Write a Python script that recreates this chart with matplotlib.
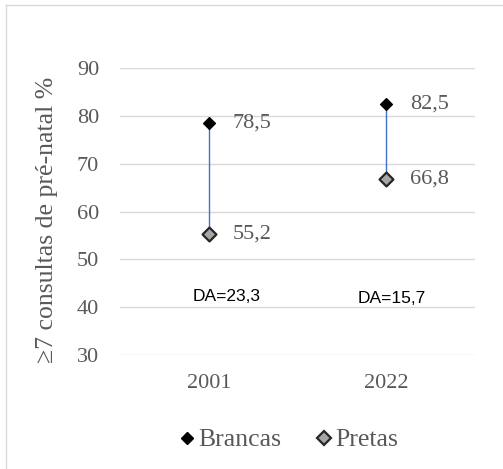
import matplotlib
matplotlib.use("Agg")
import matplotlib.pyplot as plt
from matplotlib.lines import Line2D

# dados
anos = ["2001", "2022"]
brancas = [78.5, 82.5]
pretas = [55.2, 66.8]
rotulos_brancas = ["78,5", "82,5"]
rotulos_pretas = ["55,2", "66,8"]
rotulos_da = ["DA=23,3", "DA=15,7"]
da_y = [42.2, 41.9]
da_dx = [0.1, 0.03]
yticks = [30, 40, 50, 60, 70, 80, 90]

plt.rcParams['font.family'] = ['Liberation Serif', 'DejaVu Serif']

fig = plt.figure(figsize=(5.03, 4.69), dpi=100)
ax = fig.add_axes([120 / 503, 1 - 355 / 469, 355 / 503, (355 - 68) / 469])

x = list(range(len(anos)))

# linhas entre os pontos
for xi, b, p in zip(x, brancas, pretas):
    ax.plot([xi, xi], [p, b], color="#4472C4", lw=1.0, zorder=2)

ax.scatter(x, brancas, marker="D", s=36, color="black", zorder=3, clip_on=False)
ax.scatter(x, pretas, marker="D", s=50, facecolor="#a6a6a6", edgecolor="#262626",
           linewidths=1.6, zorder=3, clip_on=False)

grey = "#595959"
for xi, v, t in zip(x, brancas, rotulos_brancas):
    ax.annotate(t, (xi, v), xytext=(17, 0), textcoords="offset points",
                va="center", ha="left", fontsize=16, color=grey)
for xi, v, t in zip(x, pretas, rotulos_pretas):
    ax.annotate(t, (xi, v), xytext=(17, 0), textcoords="offset points",
                va="center", ha="left", fontsize=16, color=grey)

for xi, dx, y, t in zip(x, da_dx, da_y, rotulos_da):
    ax.text(xi + dx, y, t, ha="center", va="center", fontsize=12.5,
            family=["Liberation Sans", "DejaVu Sans"], color="black")

ax.set_xlim(-0.5, 1.5)
ax.set_ylim(30, 90)
ax.set_yticks(yticks)
ax.set_xticks(x)
ax.set_xticklabels(anos)
ax.tick_params(length=0, labelsize=16, colors=grey)
ax.tick_params(axis="y", pad=15)
ax.tick_params(axis="x", pad=14)
ax.grid(axis="y", color="#d9d9d9", lw=1)
ax.set_axisbelow(True)
for s in ax.spines.values():
    s.set_visible(False)

ax.set_ylabel("≥7 consultas de pré-natal %", fontsize=18.5, color=grey)
ax.yaxis.set_label_coords(-0.175, 0.47)

handles = [
    Line2D([], [], ls="", marker="D", markersize=6, color="black"),
    Line2D([], [], ls="", marker="D", markersize=7, markerfacecolor="#a6a6a6",
           markeredgecolor="#262626", markeredgewidth=1.6),
]
leg = fig.legend(handles, ["Brancas", "Pretas"], loc="center", ncol=2,
                 bbox_to_anchor=(287 / 503, 1 - 440 / 469), frameon=False,
                 fontsize=18.5, handletextpad=0.0, columnspacing=1.2,
                 handlelength=0.9)
for t in leg.get_texts():
    t.set_color(grey)

# borda do gráfico
fig.add_artist(Line2D([6 / 503, 1], [1 - 5 / 469, 1 - 5 / 469],
                      transform=fig.transFigure, color="#d9d9d9", lw=1))
fig.add_artist(Line2D([6 / 503, 6 / 503], [0.0, 1 - 5 / 469],
                      transform=fig.transFigure, color="#d9d9d9", lw=1))

fig.savefig("out.png", dpi=100)
